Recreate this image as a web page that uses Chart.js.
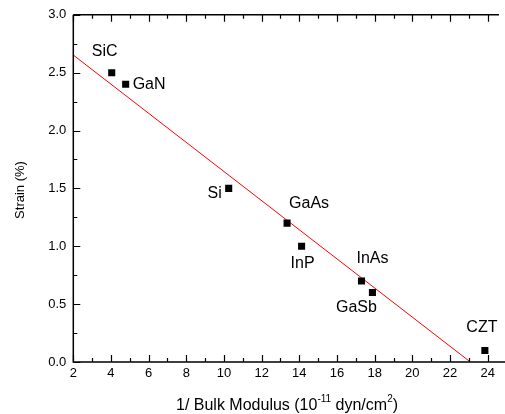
<!DOCTYPE html>
<html>
<head>
<meta charset="utf-8">
<script src="https://cdn.jsdelivr.net/npm/chart.js@4/dist/chart.umd.min.js"></script>
<style>
html,body{margin:0;padding:0;background:#fff;}
#wrap{width:505px;height:414px;position:relative;}
</style>
</head>
<body>
<div id="wrap"><canvas id="c" width="505" height="414"></canvas></div>
<script>
// ---- data ----
const materials = ["SiC","GaN","Si","GaAs","InP","InAs","GaSb","CZT"];
const invBulkModulus = [4.04, 4.78, 10.25, 13.35, 14.12, 17.3, 17.88, 23.85];
const strain = [2.5, 2.4, 1.5, 1.2, 1.0, 0.7, 0.6, 0.1];
const fitX = [2, 23.08];
const fitY = [2.652, 0.0];
const xTicks = [2,4,6,8,10,12,14,16,18,20,22,24];
const yTicks = [0.0,0.5,1.0,1.5,2.0,2.5,3.0];

// label offsets (style only)
const labelOffsets = {
  SiC:[-7,-21,'center'], GaN:[7,0,'left'], Si:[-7,5,'right'], GaAs:[2,-20,'left'],
  InP:[1,17,'center'], InAs:[-5,-22,'left'], GaSb:[-16,15,'center'], CZT:[-3,-23,'center']
};

const FONT = 'Arial, "Liberation Sans", Helvetica, sans-serif';

const framePlugin = {
  id:'frame',
  afterDraw(chart){
    const ctx = chart.ctx, a = chart.chartArea;
    const xs = chart.scales.x, ys = chart.scales.y;
    ctx.save();
    ctx.strokeStyle = '#000';
    ctx.lineWidth = 1.5;
    ctx.beginPath();
    ctx.moveTo(a.left, a.top); ctx.lineTo(a.left, a.bottom); ctx.lineTo(a.right+6, a.bottom);
    ctx.moveTo(a.left, a.top); ctx.lineTo(a.right, a.top);
    ctx.stroke();
    ctx.lineWidth = 1.2;
    ctx.beginPath();
    for (let v = 2; v <= 24.6; v += 1) {
      const px = Math.round(xs.getPixelForValue(v)) + 0.5;
      const len = (v % 2 === 0) ? 7 : 4;
      ctx.moveTo(px, a.bottom); ctx.lineTo(px, a.bottom - len);
      ctx.moveTo(px, a.top); ctx.lineTo(px, a.top + len);
    }
    for (let i = 0; i <= 12; i++) {
      const v = i * 0.25;
      const py = Math.round(ys.getPixelForValue(v)) + 0.5;
      const len = (i % 2 === 0) ? 7 : 4;
      ctx.moveTo(a.left, py); ctx.lineTo(a.left + len, py);
    }
    ctx.stroke();

    // point labels
    ctx.fillStyle = '#000';
    ctx.font = '16px ' + FONT;
    ctx.textBaseline = 'middle';
    materials.forEach((m,i)=>{
      const o = labelOffsets[m];
      const px = xs.getPixelForValue(invBulkModulus[i]);
      const py = ys.getPixelForValue(strain[i]);
      ctx.textAlign = o[2];
      ctx.fillText(m, px + o[0], py + o[1]);
    });

    // x title with superscripts
    const parts = [["1/ Bulk Modulus (10",false],["-11",true],[" dyn/cm",false],["2",true],[")",false]];
    const big = '16px ' + FONT, small = '10px ' + FONT;
    let w = 0;
    parts.forEach(p=>{ ctx.font = p[1]?small:big; w += ctx.measureText(p[0]).width; });
    let x = 176;
    const yb = 410;
    ctx.textAlign = 'left'; ctx.textBaseline = 'alphabetic';
    parts.forEach(p=>{
      ctx.font = p[1]?small:big;
      ctx.fillText(p[0], x, p[1] ? yb - 8 : yb);
      x += ctx.measureText(p[0]).width;
    });

    // y title
    ctx.save();
    ctx.translate(20, 190);
    ctx.rotate(-Math.PI/2);
    ctx.font = '13px ' + FONT;
    ctx.textAlign = 'center'; ctx.textBaseline = 'middle';
    ctx.fillText('Strain (%)', 0, 0);
    ctx.restore();
    ctx.restore();
  }
};

new Chart(document.getElementById('c'), {
  type:'scatter',
  data:{
    datasets:[
      {
        label:'fit', type:'line',
        data: fitX.map((x,i)=>({x, y:fitY[i]})),
        borderColor:'#ff0000', borderWidth:1, pointRadius:0, fill:false, tension:0, order:2
      },
      {
        label:'data',
        data: invBulkModulus.map((x,i)=>({x, y:strain[i]})),
        pointStyle:'rect', pointRadius:5, pointHoverRadius:5,
        backgroundColor:'#000', borderColor:'#000', borderWidth:0, order:1
      }
    ]
  },
  options:{
    responsive:false, animation:false, devicePixelRatio:1,
    layout:{padding:{top:11, right:6, left:0, bottom:0}},
    plugins:{legend:{display:false}, tooltip:{enabled:false}},
    scales:{
      x:{
        type:'linear', min:2, max:24.6,
        afterBuildTicks(s){ s.ticks = xTicks.map(v=>({value:v})); },
        afterFit(s){ s.height = 52; },
        grid:{display:false, drawTicks:false}, border:{display:false},
        ticks:{color:'#000', font:{family:FONT, size:13}, padding:4, maxRotation:0,
               callback:v=>String(v)}
      },
      y:{
        type:'linear', min:0, max:3.0,
        afterBuildTicks(s){ s.ticks = yTicks.map(v=>({value:v})); },
        afterFit(s){ s.width = 73.3; },
        grid:{display:false, drawTicks:false}, border:{display:false},
        ticks:{color:'#000', font:{family:FONT, size:13}, padding:7,
               callback:v=>Number(v).toFixed(1)}
      }
    }
  },
  plugins:[framePlugin]
});
</script>
</body>
</html>
